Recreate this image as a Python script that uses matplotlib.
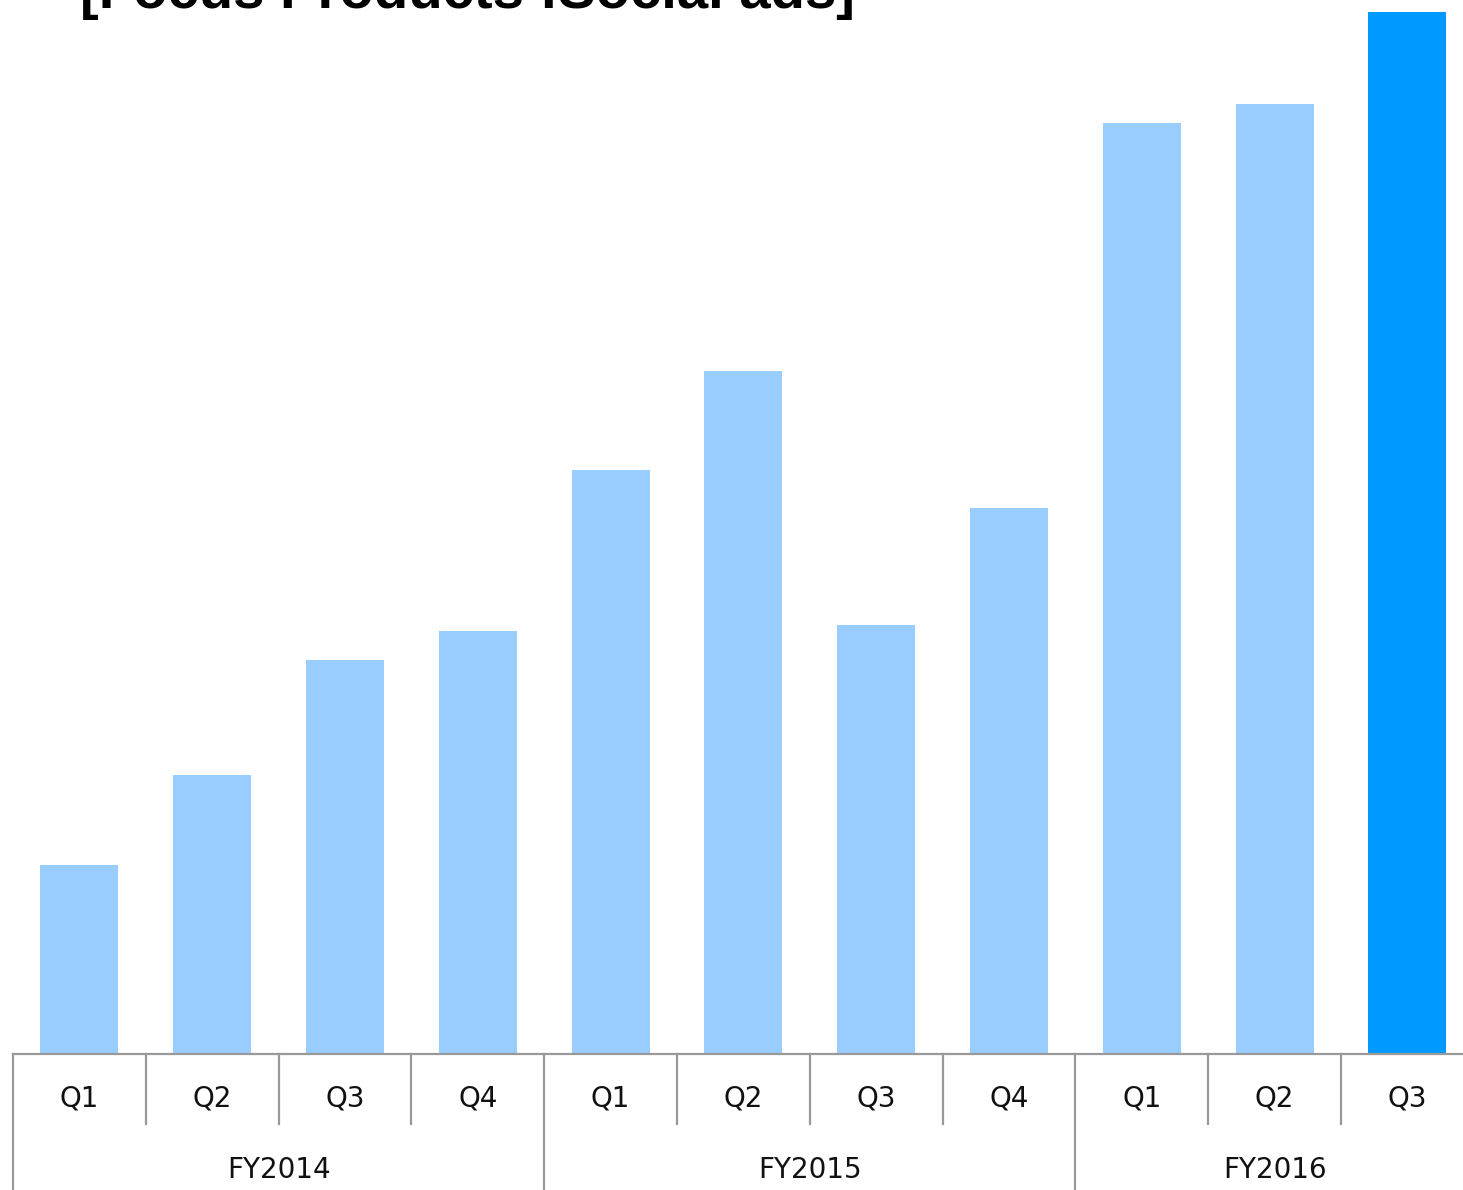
import matplotlib.pyplot as plt
import matplotlib.transforms as mtransforms

# 분기별 소셜 광고 매출 (지수)
quarters = ["Q1", "Q2", "Q3", "Q4", "Q1", "Q2", "Q3", "Q4", "Q1", "Q2", "Q3"]
fiscal_years = ["FY2014", "FY2015", "FY2016"]
quarters_per_year = [4, 4, 3]
values = [18.9, 27.9, 39.4, 42.3, 58.4, 68.3, 42.9, 54.6, 93.1, 95.0, 104.2]

LIGHT = "#99CCFF"
DARK = "#0099FF"
AXIS_GRAY = "#999999"

W, H = 1463, 1190
fig = plt.figure(figsize=(W / 100, H / 100), dpi=100)
fig.patch.set_facecolor("white")

# 축은 오른쪽 끝이 살짝 잘리도록 배치
ax = fig.add_axes([13 / W, 136 / H, 1460.8 / W, 1054 / H])
n = len(values)
xs = [i + 0.5 for i in range(n)]
colors = [LIGHT] * (n - 1) + [DARK]
ax.bar(xs, values, width=0.587, color=colors, zorder=2)

ax.set_xlim(0, 11)
ax.set_ylim(0, 105.4)
for s in ["top", "left", "right"]:
    ax.spines[s].set_visible(False)
ax.spines["bottom"].set_color(AXIS_GRAY)
ax.spines["bottom"].set_linewidth(1.6)
ax.set_xticks([])
ax.set_yticks([])

trans = mtransforms.blended_transform_factory(ax.transData, ax.transAxes)
short_y = -70 / 1054
long_y = -140 / 1054

# 분기 구분선 및 라벨
group_starts = [0]
for k in quarters_per_year[:-1]:
    group_starts.append(group_starts[-1] + k)
for i in range(n):
    y_end = long_y if i in group_starts else short_y
    ax.plot([i, i], [0, y_end], color=AXIS_GRAY, lw=1.6, transform=trans,
            clip_on=False)
    ax.text(xs[i], -45 / 1054, quarters[i], transform=trans, ha="center",
            va="center", fontsize=20, family="DejaVu Sans", color="#111111")

# 회계연도 라벨
for start, k, fy in zip(group_starts, quarters_per_year, fiscal_years):
    center = start + 2 if k == 4 else start + 1.5
    ax.text(center, -116 / 1054, fy, transform=trans, ha="center",
            va="center", fontsize=20, family="DejaVu Sans", color="#111111")

# 상단 제목 (위쪽이 잘린 형태)
fig.text(80 / W, 1 - 8 / H, "[Focus Products :Social ads]", ha="left",
         va="baseline", fontsize=40.5, fontweight="bold",
         family="Liberation Sans", color="black")

fig.savefig("out.png", dpi=100)
